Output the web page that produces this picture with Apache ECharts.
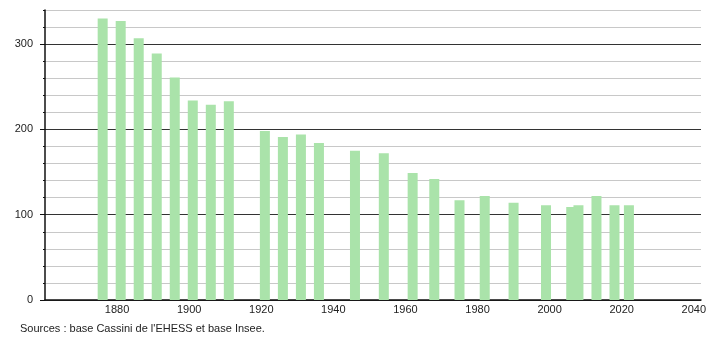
<!DOCTYPE html>
<html>
<head>
<meta charset="utf-8">
<script src="https://cdn.jsdelivr.net/npm/echarts@6/dist/echarts.min.js"></script>
<style>html,body{margin:0;padding:0;background:#fff;}#c{width:710px;height:340px;}</style>
</head>
<body>
<div id="c"></div>
<script>
const years = [1876,1881,1886,1891,1896,1901,1906,1911,1921,1926,1931,1936,1946,1954,1962,1968,1975,1982,1990,1999,2006,2008,2013,2018,2022];
const population = [330,327,307,289,261,234,229,233,198,191,194,184,175,172,149,142,117,122,114,111,109,111,122,111,111];
const xTickLabels = [1880,1900,1920,1940,1960,1980,2000,2020,2040];
const yTickLabels = [0,100,200,300];
const sourceText = "Sources : base Cassini de l'EHESS et base Insee.";

const chart = echarts.init(document.getElementById('c'), null, {renderer:'canvas'});
const font = 'Liberation Sans, Arial, sans-serif';
const gTop = 10, gBottom = 40, yMax = 340;
const plotH = 340 - gTop - gBottom;
const top300 = gTop + plotH * (yMax - 300) / yMax;
chart.setOption({
  animation:false,
  backgroundColor:'#fff',
  title:{text:sourceText,left:20,top:323,padding:0,textStyle:{fontSize:11,fontWeight:'normal',color:'#222',fontFamily:font}},
  grid:[{left:45,right:9,top:gTop,bottom:gBottom},{left:45,right:9,top:top300,bottom:gBottom}],
  xAxis:[{type:'value',min:1860,max:2042,interval:20,gridIndex:0,
    axisLine:{show:true,lineStyle:{color:'#111',width:1.5}},
    axisTick:{show:false},
    splitLine:{show:false},
    axisLabel:{showMinLabel:false,showMaxLabel:false,margin:4,fontSize:11,color:'#222',fontFamily:font,
      formatter:v=>xTickLabels.includes(v)?String(v):''}
  },{type:'value',min:1860,max:2042,gridIndex:1,show:false}],
  yAxis:[{type:'value',min:0,max:yMax,interval:20,gridIndex:0,
    axisLine:{show:true,lineStyle:{color:'#111',width:1.5}},
    axisTick:{show:true,length:2,lineStyle:{color:'#111'}},
    splitLine:{show:true,lineStyle:{color:['#333','#c8c8c8','#c8c8c8','#c8c8c8','#c8c8c8'],width:1}},
    axisLabel:{margin:12,fontSize:11,color:'#222',fontFamily:font,
      formatter:v=>yTickLabels.includes(v)?String(v):''}
  },{type:'value',min:0,max:300,interval:100,gridIndex:1,position:'left',
    axisLine:{show:false},
    axisTick:{show:true,length:5,lineStyle:{color:'#111'}},
    splitLine:{show:false},axisLabel:{show:false}
  }],
  series:[{type:'bar',barWidth:10,xAxisIndex:0,yAxisIndex:0,
    data:years.map((y,i)=>[y,population[i]]),
    itemStyle:{color:'#aae3aa'}
  }]
});
</script>
</body>
</html>
